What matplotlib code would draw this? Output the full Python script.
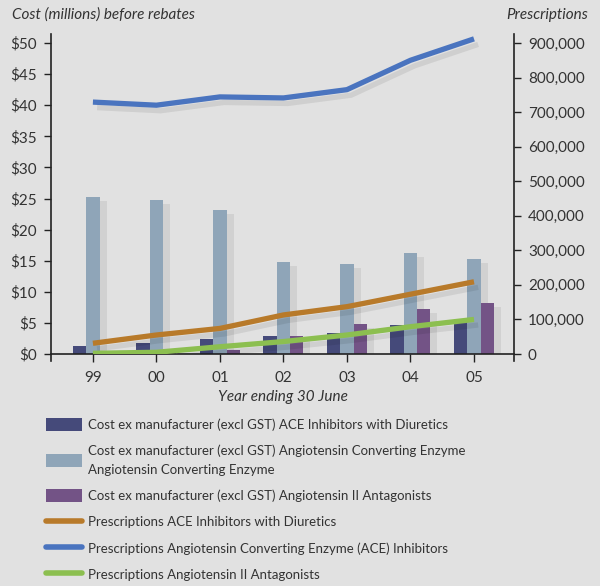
import matplotlib
matplotlib.use("Agg")
import matplotlib.pyplot as plt
import matplotlib.patheffects as pe
from matplotlib.patches import Patch
from matplotlib.lines import Line2D
import numpy as np

# --- data ---
years = ["99", "00", "01", "02", "03", "04", "05"]

cost_ace_diuretics = [1.3, 1.8, 2.4, 2.9, 3.4, 4.6, 5.3]
cost_ace = [25.2, 24.8, 23.2, 14.8, 14.5, 16.3, 15.3]
cost_aiia = [0.1, 0.3, 0.7, 2.9, 4.8, 7.2, 8.2]

rx_ace_diuretics = [31000, 55000, 74000, 113000, 137000, 173000, 209000]
rx_ace = [729000, 720000, 744000, 741000, 765000, 850000, 912000]
rx_aiia = [2000, 5000, 21000, 36000, 55000, 79000, 100000]

cost_ticks = [0, 5, 10, 15, 20, 25, 30, 35, 40, 45, 50]
rx_ticks = [0, 100000, 200000, 300000, 400000, 500000, 600000, 700000, 800000, 900000]

# --- style ---
BG = "#e1e1e1"
C_DARK = "#454a7a"
C_LIGHT = "#8fa5b8"
C_PURPLE = "#735386"
C_ORANGE = "#b87a2a"
C_BLUE = "#4a74bf"
C_GREEN = "#8cbf50"
TXT = "#333333"

plt.rcParams["font.family"] = ["Lato", "DejaVu Sans"]

fig = plt.figure(figsize=(6.0, 5.86), dpi=100, facecolor=BG)
ax = fig.add_axes([51 / 600, 1 - 354 / 586, (514 - 51) / 600, (354 - 34) / 586])
ax.set_facecolor("none")
ax2 = ax.twinx()

x = np.arange(len(years))
w = 0.21
bar_shadow = [pe.SimplePatchShadow(offset=(5, -3), shadow_rgbFace="k", alpha=0.07), pe.Normal()]
for off, vals, col in [(-w, cost_ace_diuretics, C_DARK), (0, cost_ace, C_LIGHT), (w, cost_aiia, C_PURPLE)]:
    bars = ax.bar(x + off, vals, width=w, color=col, linewidth=0, zorder=2)
    for b in bars:
        b.set_path_effects(bar_shadow)

line_shadow = [pe.SimpleLineShadow(offset=(3, -4), shadow_color="k", alpha=0.08), pe.Normal()]
for vals, col in [(rx_ace_diuretics, C_ORANGE), (rx_ace, C_BLUE), (rx_aiia, C_GREEN)]:
    ax2.plot(x, vals, color=col, linewidth=3.8, solid_capstyle="butt",
             solid_joinstyle="round", path_effects=line_shadow)

ymax = 50 + 9 / 6.22
ax.set_ylim(0, ymax)
ax2.set_ylim(0, ymax * 18000)
ax.set_xlim(-0.66, 6.63)

ax.set_yticks(cost_ticks)
ax.set_yticklabels(["$%d" % v for v in cost_ticks])
ax2.set_yticks(rx_ticks)
ax2.set_yticklabels(["{:,}".format(v) for v in rx_ticks])
ax.set_xticks(x)
ax.set_xticklabels(years)

for a in (ax, ax2):
    for s in a.spines.values():
        s.set_visible(False)
ax.spines["left"].set_visible(True)
ax.spines["bottom"].set_visible(True)
ax2.spines["right"].set_visible(True)
for s in [ax.spines["left"], ax.spines["bottom"], ax2.spines["right"]]:
    s.set_color("#222222")
    s.set_linewidth(1.2)
# spines poke a little below the zero line, as in the original
ax.spines["left"].set_bounds(-1.1, ymax)
ax2.spines["right"].set_bounds(-1.1 * 18000, ymax * 18000)

ax.tick_params(axis="y", direction="out", length=5, width=1, color="#222222",
               labelsize=11, labelcolor=TXT, pad=5)
ax.tick_params(axis="x", direction="out", length=6, width=1, color="#222222",
               labelsize=11, labelcolor=TXT, pad=6)
ax2.tick_params(axis="y", direction="out", length=5, width=1, color="#222222",
                labelsize=11, labelcolor=TXT, pad=5)

fig.text(12 / 600, 1 - 15 / 586, "Cost (millions) before rebates", style="italic",
         fontsize=11, color=TXT, ha="left", va="center")
fig.text(588 / 600, 1 - 15 / 586, "Prescriptions", style="italic",
         fontsize=11, color=TXT, ha="right", va="center")
fig.text(283 / 600, 1 - 397 / 586, "Year ending 30 June", style="italic",
         fontsize=11, color=TXT, ha="center", va="center")

handles = [
    Patch(facecolor=C_DARK, edgecolor="none"),
    Patch(facecolor=C_LIGHT, edgecolor="none"),
    Patch(facecolor=C_PURPLE, edgecolor="none"),
    Line2D([], [], color=C_ORANGE, linewidth=4, solid_capstyle="round"),
    Line2D([], [], color=C_BLUE, linewidth=4, solid_capstyle="round"),
    Line2D([], [], color=C_GREEN, linewidth=4, solid_capstyle="round"),
]
labels = [
    "Cost ex manufacturer (excl GST) ACE Inhibitors with Diuretics",
    "Cost ex manufacturer (excl GST) Angiotensin Converting Enzyme\nAngiotensin Converting Enzyme",
    "Cost ex manufacturer (excl GST) Angiotensin II Antagonists",
    "Prescriptions ACE Inhibitors with Diuretics",
    "Prescriptions Angiotensin Converting Enzyme (ACE) Inhibitors",
    "Prescriptions Angiotensin II Antagonists",
]
fs = 9.5
leg = fig.legend(handles, labels, loc="upper left", bbox_to_anchor=(46 / 600, 1 - 418 / 586),
                 frameon=False, fontsize=fs, handlelength=2.7, handleheight=1.15,
                 handletextpad=0.45, labelspacing=1.0, borderpad=0, borderaxespad=0,
                 labelcolor=TXT)
for t in leg.get_texts():
    t.set_linespacing(1.7)

fig.savefig("out.png", dpi=100, facecolor=BG)
